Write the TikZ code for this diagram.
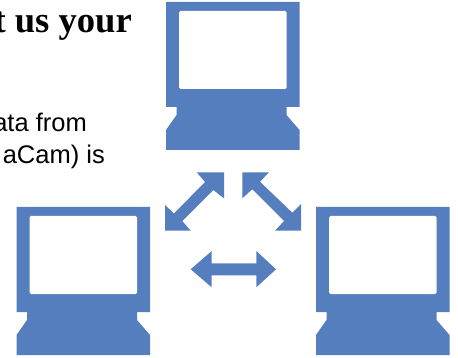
\documentclass[tikz,border=0pt]{standalone}
\usepackage{fontspec}
\setmainfont{Liberation Serif}
\setsansfont{Liberation Sans}
\usetikzlibrary{positioning}

\begin{document}
\begin{tikzpicture}[x=1pt,y=-1pt]
	\tikzstyle{heading} = [inner sep=0, anchor=base east, font=\rmfamily\bfseries\fontsize{36.6}{40}\selectfont]
	\tikzstyle{body} = [inner sep=0, anchor=base east, font=\sffamily\fontsize{25.5}{30}\selectfont]
	\tikzstyle{symbol} = [fill={rgb,255:red,85;green,126;blue,191}, draw=none]
	\tikzstyle{screen} = [fill=white, rounded corners=1.5pt]

	\useasboundingbox (0,0) rectangle (458,358);

	\node [heading] (title) at (132,33) {t us your};
	\node [body] (line1) at (87,132) {ata from};
	\node [body] (line2) at (105,164) {aCam) is};

	% the three computers
	\foreach \px/\py in {166/2, 16.5/207, 316/207} {
		\begin{scope}[shift={(\px,\py)}]
			\fill [symbol] (0,0) -- (133.5,0) -- (133.5,105) -- (120.5,105) -- (120.5,113)
				-- (133.5,128) -- (133.5,148) -- (0,148) -- (0,128) -- (10.5,113) -- (10.5,105) -- (0,105) -- cycle;
			\fill [screen] (13,9) rectangle (120.5,87);
		\end{scope}
	}

	% the three arrows
	\fill [symbol] (165,230.7) -- (165,205) -- (174,213.5) -- (205,182) -- (196.7,172.3) -- (224,172.3)
		-- (224,198.3) -- (213.3,190) -- (182.3,221) -- (190.7,230.7) -- cycle;
	\fill [symbol] (301,230.7) -- (301,204) -- (292.3,212.7) -- (260,181.7) -- (269,172.3) -- (242.3,172.3)
		-- (242.3,198.3) -- (252.3,189.3) -- (284,221) -- (275,230.7) -- cycle;
	\fill [symbol] (190.7,269.3) -- (211.7,251) -- (211.7,263.3) -- (256.3,263.3) -- (256.3,251) -- (276,269.3)
		-- (256.3,287.3) -- (256.3,275.3) -- (211.7,275.3) -- (211.7,287.3) -- cycle;
\end{tikzpicture}
\end{document}
